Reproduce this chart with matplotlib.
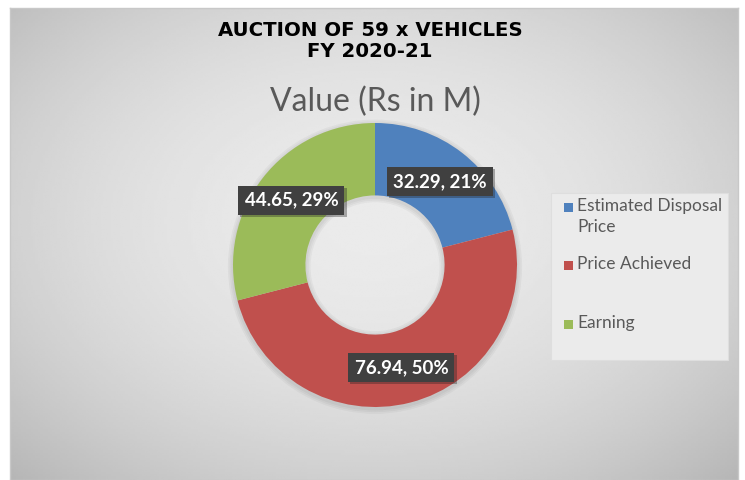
import numpy as np
import matplotlib.pyplot as plt
from matplotlib.patches import Rectangle

# data
categories = ['Estimated Disposal\nPrice', 'Price Achieved', 'Earning']
values = [32.29, 76.94, 44.65]
colors = ['#4F81BD', '#C0504D', '#9BBB59']
title_lines = 'AUCTION OF 59 x VEHICLES\nFY 2020-21'
chart_title = 'Value (Rs in M)'

W, H = 745, 480
fig = plt.figure(figsize=(W / 100, H / 100), dpi=100)
fig.patch.set_facecolor('white')

# gradient background inside frame
bg = fig.add_axes([10 / W, 0, 728 / W, 472 / H])
yy, xx = np.mgrid[-1:1:200j, -1:1:300j]
rr = np.sqrt((xx * 0.95) ** 2 + ((yy + 0.1) * 0.9) ** 2)
bg.imshow(0.92 - 0.11 * rr ** 2, cmap='gray', vmin=0, vmax=1, aspect='auto',
          extent=[0, 1, 0, 1], interpolation='bilinear')
bg.set_xlim(0, 1)
bg.set_ylim(0, 1)
bg.set_xticks([])
bg.set_yticks([])
for s in bg.spines.values():
    s.set_color('#c8c8c8')
    s.set_linewidth(1)

# titles
fig.text(370 / W, 1 - 41 / H, title_lines, ha='center', va='center',
         fontsize=14.2, fontweight='bold', family='DejaVu Sans',
         color='black', linespacing=1.12)
fig.text(375 / W, 1 - 102 / H, chart_title, ha='center', va='center',
         fontsize=23, family='Lato', color='#595959')

# donut
ax = fig.add_axes([(375 - 142) / W, (480 - 407) / H, 284 / W, 284 / H])

# soft shadow
for k in range(3):
    ax.pie([1], radius=1.0 + 0.012 * (k + 1), colors=['#000000'],
           wedgeprops=dict(width=0.51 + 0.024 * (k + 1), alpha=0.035, linewidth=0),
           center=(0.0, -0.012))

total = sum(values)
wedges, _ = ax.pie(values, colors=colors, startangle=90, counterclock=False,
                   radius=1.0, wedgeprops=dict(width=0.51, linewidth=0))
ax.set_xlim(-1, 1)
ax.set_ylim(-1, 1)
ax.axis('off')

for w, v in zip(wedges, values):
    ang = np.deg2rad((w.theta1 + w.theta2) / 2)
    r = 0.745
    lab = f'{v:.2f}, {v / total * 100:.0f}%'
    ax.text(r * np.cos(ang) + 0.015, r * np.sin(ang) - 0.015, lab,
            ha='center', va='center', fontsize=13.5, fontweight='bold',
            family='Lato', color='white', alpha=0.0,
            bbox=dict(boxstyle='square,pad=0.33', fc='#222222', ec='none', alpha=0.35))
    ax.text(r * np.cos(ang), r * np.sin(ang), lab,
            ha='center', va='center', fontsize=13.5, fontweight='bold',
            family='Lato', color='white',
            bbox=dict(boxstyle='square,pad=0.33', fc='#404040', ec='none'))

# legend
lx0, ly0, lx1, ly1 = 551, 193, 728, 360
fig.patches.append(Rectangle((lx0 / W, 1 - ly1 / H), (lx1 - lx0) / W, (ly1 - ly0) / H,
                             transform=fig.transFigure, fc='#ebebeb', ec='#dedede',
                             lw=0.8, zorder=1))
leg_y = [207, 265, 324]
for lab, col, y in zip(categories, colors, leg_y):
    fig.patches.append(Rectangle((564 / W, 1 - (y + 5) / H), 9 / W, 9 / H,
                                 transform=fig.transFigure, fc=col, ec='none', zorder=2))
    fig.text(577 / W, 1 - (y - 9) / H, lab, ha='left', va='top', fontsize=12.5,
             family='Lato', color='#595959', linespacing=1.35, zorder=3)

fig.savefig('out.png', dpi=100)
